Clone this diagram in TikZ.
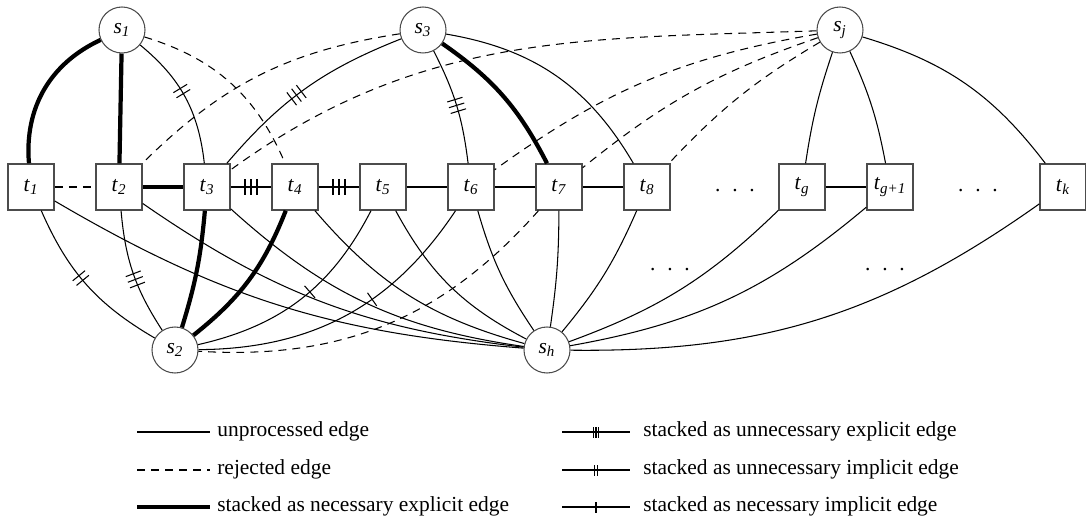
\documentclass[tikz,border=0pt]{standalone}
\usepackage{fontspec}
\setmainfont{Liberation Serif}
\usetikzlibrary{decorations.markings}

\newcommand{\lbl}[2]{\textit{#1}\textsubscript{\textit{#2}}}
\newcommand{\tklen}{0.16cm}
\newcommand{\tkgap}{0.12cm}

\tikzset{
  snode/.style={circle, draw=black!70, line width=0.6pt, fill=white, minimum size=0.92cm, inner sep=0pt},
  tbox/.style={rectangle, draw=black!70, line width=0.8pt, fill=white, minimum size=0.92cm, inner sep=0pt},
  unproc/.style={line width=0.6pt},
  rejected/.style={line width=0.6pt, dash pattern=on 4.5pt off 3.5pt},
  necexpl/.style={line width=2.4pt},
  tickone/.style={unproc, postaction={decorate}, decoration={markings, mark=at position #1 with {
      \draw[unproc] (0,-\tklen) -- (0,\tklen);}}},
  tickone/.default=0.5,
  ticktwo/.style={unproc, postaction={decorate}, decoration={markings, mark=at position #1 with {
      \draw[unproc] (-0.5*\tkgap,-\tklen) -- (-0.5*\tkgap,\tklen) (0.5*\tkgap,-\tklen) -- (0.5*\tkgap,\tklen);}}},
  ticktwo/.default=0.5,
  tickthree/.style={unproc, postaction={decorate}, decoration={markings, mark=at position #1 with {
      \draw[unproc] (-\tkgap,-\tklen) -- (-\tkgap,\tklen) (0,-\tklen) -- (0,\tklen) (\tkgap,-\tklen) -- (\tkgap,\tklen);}}},
  tickthree/.default=0.5,
  legtext/.style={anchor=base west, inner sep=0pt}
}

\begin{document}
\begin{tikzpicture}[font=\fontsize{12.2}{14.6}\selectfont]
\useasboundingbox (0,0) rectangle (21.72,-10.46);

%Knoten s
\node[snode] (s1) at (2.44,-0.60) {\lbl{s}{1}};
\node[snode] (s3) at (8.46,-0.60) {\lbl{s}{3}};
\node[snode] (sj) at (16.80,-0.60) {\lbl{s}{j}};
\node[snode] (s2) at (3.50,-7.00) {\lbl{s}{2}};
\node[snode] (sh) at (10.94,-7.00) {\lbl{s}{h}};

%Knoten t
\foreach \i/\x in {1/0.62, 2/2.38, 3/4.14, 4/5.90, 5/7.66, 6/9.42, 7/11.18, 8/12.94}
{
	\node[tbox] (t\i) at (\x,-3.74) {\lbl{t}{\i}};
}
\node[tbox] (tg) at (16.04,-3.74) {\lbl{t}{g}};
\node[tbox] (tgg) at (17.80,-3.74) {\lbl{t}{g+1}};
\node[tbox] (tk) at (21.26,-3.74) {\lbl{t}{k}};

\node (dotsa) at (14.70,-3.82) {.\hspace{0.55em}.\hspace{0.55em}.};
\node (dotsb) at (19.56,-3.82) {.\hspace{0.55em}.\hspace{0.55em}.};
\node (dotsc) at (13.40,-5.40) {.\hspace{0.55em}.\hspace{0.55em}.};
\node (dotsd) at (17.70,-5.40) {.\hspace{0.55em}.\hspace{0.55em}.};

%unbearbeitete Kanten
\draw[unproc] (s3) to[bend left=25] (t8);
\draw[unproc] (sj) to[bend right=5] (tg);
\draw[unproc] (sj) to[bend left=7] (tgg);
\draw[unproc] (sj) to[bend left=18] (tk);
\draw[unproc] (t5) -- (t6);
\draw[unproc] (t6) -- (t7);
\draw[unproc] (t7) -- (t8);
\draw[unproc] (tg) -- (tgg);
\foreach \a/\b in {t1/13, t2/14, t3/17, t4/17, t5/17, t6/9}
	\draw[unproc] (\a) to[bend right=\b] (sh);
\foreach \a/\b in {t7/4, t8/8, tg/12, tgg/15, tk/18}
	\draw[unproc] (\a) to[bend left=\b] (sh);

%verworfene Kanten
\draw[rejected] (t1) -- (t2);
\draw[rejected] (s1) to[bend left=25] (t4);
\draw[rejected] (s3) to[bend right=18] (t2);
\draw[rejected] (sj) to[out=182,in=36] (t3);
\foreach \a/\b in {t6/13, t7/10, t8/8}
	\draw[rejected] (sj) to[bend right=\b] (\a);
\draw[rejected] (t7) to[bend left=26] (s2);

%notwendig, explizit
\draw[necexpl] (s1) to[bend right=35] (t1);
\draw[necexpl] (s1) -- (t2);
\draw[necexpl] (t2) -- (t3);
\draw[necexpl] (s3) to[bend left=14] (t7);
\draw[necexpl] (t3) to[bend left=6] (s2);
\draw[necexpl] (t4) to[bend left=15] (s2);

%unnoetig, explizit
\draw[tickthree] (t3) -- (t4);
\draw[tickthree] (t4) -- (t5);
\draw[tickthree=0.55] (s3) to[bend right=14] (t3);
\draw[tickthree] (s3) to[bend left=10] (t6);
\draw[tickthree=0.55] (t2) to[bend right=14] (s2);

%unnoetig, implizit
\draw[ticktwo=0.45] (s1) to[bend left=22] (t3);
\draw[ticktwo=0.45] (t1) to[bend right=18] (s2);

%notwendig, implizit
\draw[tickone=0.45] (t5) to[bend left=25] (s2);
\draw[tickone=0.4] (t6) to[bend left=28] (s2);

%Legende
\begin{scope}
\renewcommand{\tklen}{0.11cm}
\renewcommand{\tkgap}{0.054cm}
\node[legtext] (lgunproc) at (4.34,-8.72) {unprocessed edge};
\node[legtext] (lgrej) at (4.34,-9.48) {rejected edge};
\node[legtext] (lgnecexpl) at (4.34,-10.22) {stacked as necessary explicit edge};
\node[legtext] (lgunexpl) at (12.86,-8.72) {stacked as unnecessary explicit edge};
\node[legtext] (lgunimpl) at (12.86,-9.48) {stacked as unnecessary implicit edge};
\node[legtext] (lgnecimpl) at (12.86,-10.22) {stacked as necessary implicit edge};

\draw[unproc] ([shift={(-1.60,0.08)}]lgunproc.base west) -- ([shift={(-0.14,0.08)}]lgunproc.base west);
\draw[rejected] ([shift={(-1.60,0.08)}]lgrej.base west) -- ([shift={(-0.14,0.08)}]lgrej.base west);
\draw[necexpl] ([shift={(-1.60,0.08)}]lgnecexpl.base west) -- ([shift={(-0.14,0.08)}]lgnecexpl.base west);
\draw[tickthree] ([shift={(-1.62,0.08)}]lgunexpl.base west) -- ([shift={(-0.26,0.08)}]lgunexpl.base west);
\draw[ticktwo] ([shift={(-1.62,0.08)}]lgunimpl.base west) -- ([shift={(-0.26,0.08)}]lgunimpl.base west);
\draw[tickone] ([shift={(-1.62,0.08)}]lgnecimpl.base west) -- ([shift={(-0.26,0.08)}]lgnecimpl.base west);
\end{scope}

\end{tikzpicture}
\end{document}
